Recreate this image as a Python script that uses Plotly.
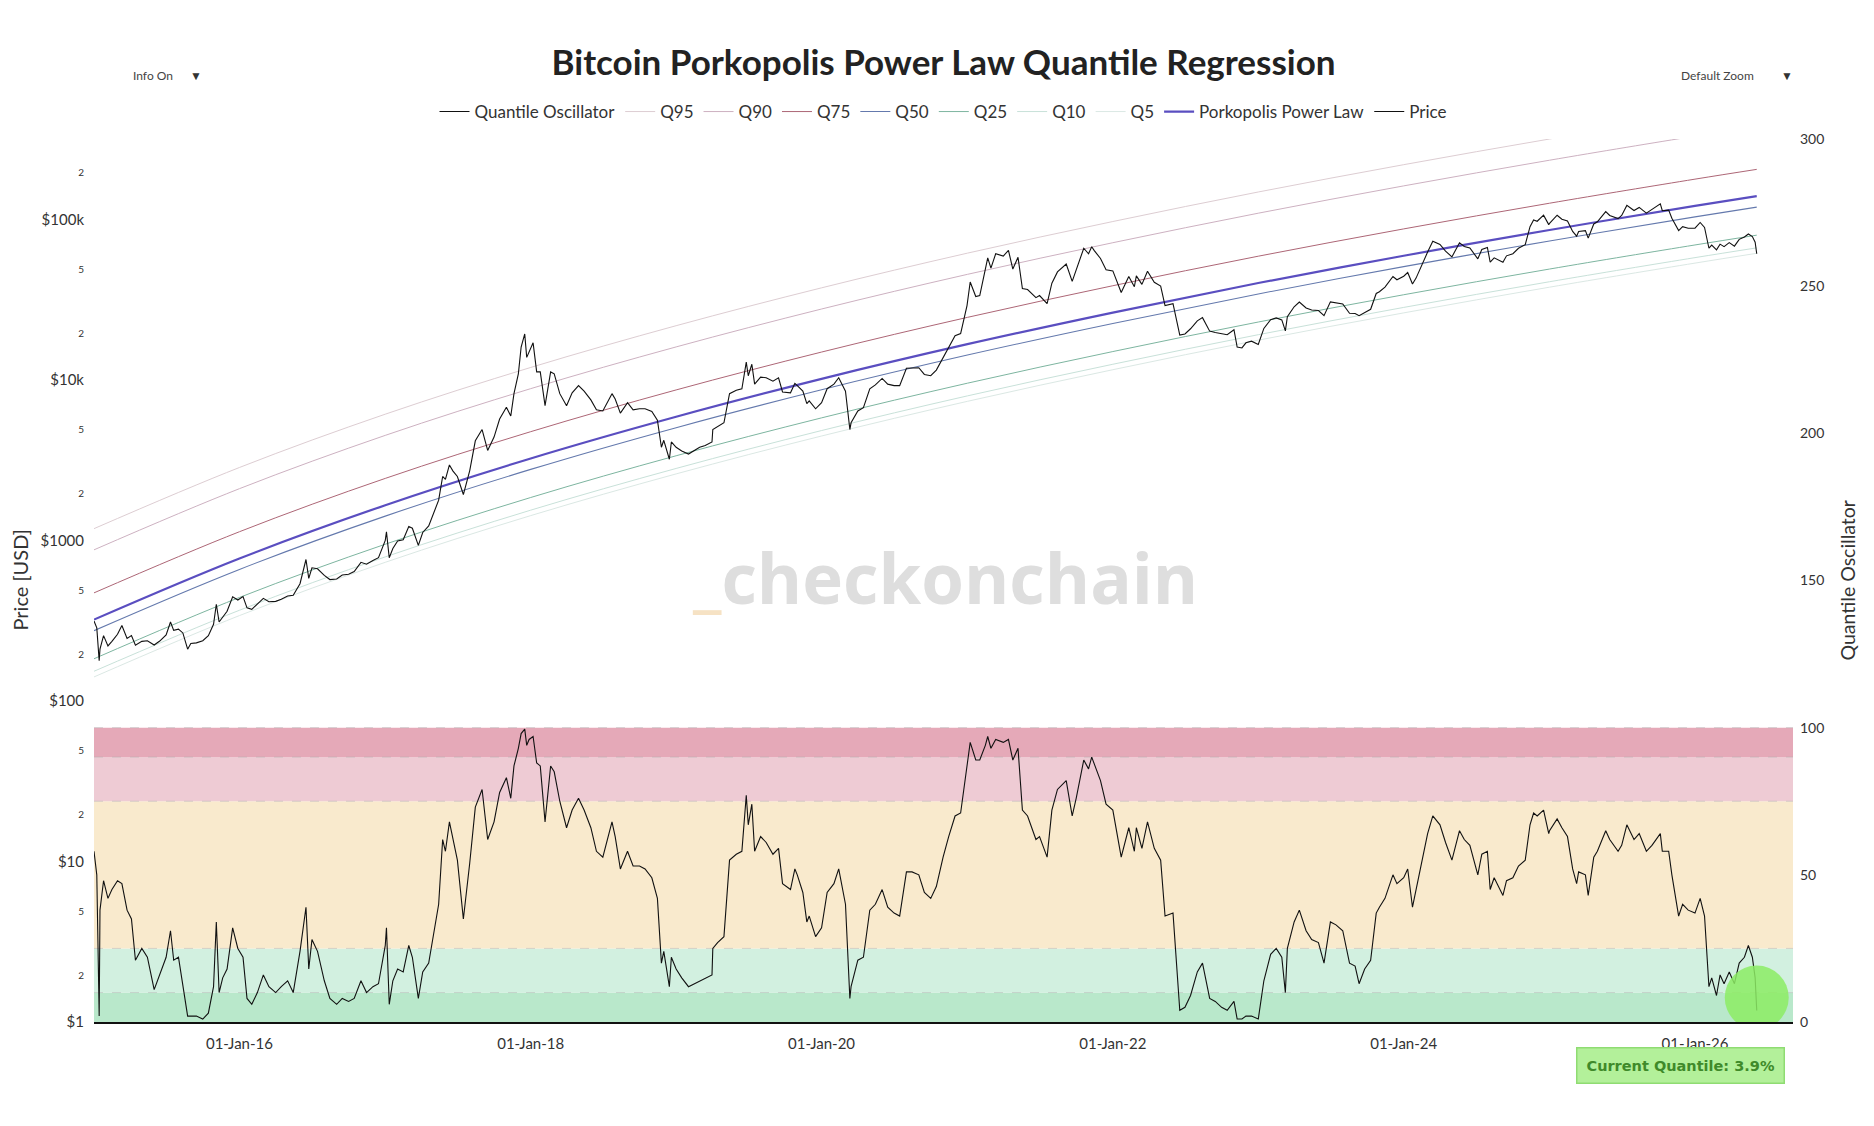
import plotly.graph_objects as go

# ---------------- data ----------------
curve_dates = ["2015-01-01", "2016-01-01", "2017-01-01", "2018-01-01", "2019-01-01", "2020-01-01",
               "2021-01-01", "2022-01-01", "2023-01-01", "2024-01-01", "2025-01-01", "2026-01-01",
               "2026-06-05"]
q95 = [1183, 2844, 6109, 11940, 21730, 37410, 61520, 96830, 147900, 218800, 316200, 446700, 514000]
q90 = [873, 2099, 4508, 8810, 16030, 27610, 45390, 71450, 109100, 161400, 233300, 329600, 379300]
q75 = [471, 1132, 2432, 4753, 8650, 14890, 24490, 38550, 58880, 87100, 125900, 177800, 204600]
power_law = [321, 771, 1656, 3236, 5888, 10140, 16670, 26240, 40090, 59290, 85700, 121060, 139300]
q50 = [274, 659, 1416, 2767, 5035, 8670, 14260, 22440, 34280, 50700, 73280, 103500, 119100]
q25 = [183, 441, 946, 1849, 3365, 5794, 9528, 15000, 22910, 33880, 48980, 69180, 79620]
q10 = [153, 367, 789, 1542, 2805, 4831, 7943, 12500, 19100, 28250, 40830, 57680, 66370]
q5 = [141, 340, 730, 1426, 2594, 4467, 7345, 11560, 17660, 26120, 37760, 53330, 61380]

price_dates = [
    "2015-01-01", "2015-01-08", "2015-01-14", "2015-01-16", "2015-01-25", "2015-02-05", "2015-02-15",
    "2015-03-01", "2015-03-12", "2015-03-25", "2015-04-05", "2015-04-15", "2015-05-01", "2015-05-15",
    "2015-06-01", "2015-06-15", "2015-07-01", "2015-07-12", "2015-07-20", "2015-08-01", "2015-08-12",
    "2015-08-24", "2015-09-01", "2015-09-15", "2015-10-01", "2015-10-15", "2015-10-28", "2015-11-04",
    "2015-11-11", "2015-11-20", "2015-12-01", "2015-12-15", "2015-12-28",
    "2016-01-10", "2016-01-20", "2016-02-01", "2016-02-15", "2016-03-01", "2016-03-15", "2016-04-01",
    "2016-04-15", "2016-05-01", "2016-05-15", "2016-06-01", "2016-06-16", "2016-06-23", "2016-07-01",
    "2016-07-15", "2016-08-01", "2016-08-15", "2016-09-01", "2016-09-15", "2016-10-01", "2016-10-15",
    "2016-11-01", "2016-11-15", "2016-12-01", "2016-12-15",
    "2017-01-01", "2017-01-04", "2017-01-11", "2017-01-20", "2017-02-01", "2017-02-15", "2017-03-01",
    "2017-03-10", "2017-03-25", "2017-04-05", "2017-04-20", "2017-05-05", "2017-05-15", "2017-05-25",
    "2017-06-01", "2017-06-11", "2017-06-20", "2017-07-01", "2017-07-16", "2017-08-01", "2017-08-15",
    "2017-09-01", "2017-09-15", "2017-10-01", "2017-10-15", "2017-11-01", "2017-11-12", "2017-11-20",
    "2017-12-01", "2017-12-08", "2017-12-17", "2017-12-22", "2017-12-28",
    "2018-01-07", "2018-01-16", "2018-01-25", "2018-02-06", "2018-02-20", "2018-03-01", "2018-03-15",
    "2018-04-01", "2018-04-15", "2018-05-01", "2018-05-15", "2018-06-01", "2018-06-15", "2018-07-01",
    "2018-07-24", "2018-08-01", "2018-08-14", "2018-09-01", "2018-09-15", "2018-10-01", "2018-10-15",
    "2018-11-01", "2018-11-15", "2018-11-25", "2018-12-01", "2018-12-15", "2018-12-20",
    "2019-01-01", "2019-01-15", "2019-02-01", "2019-02-15", "2019-03-01", "2019-03-15", "2019-04-01",
    "2019-04-03", "2019-04-15", "2019-05-01", "2019-05-15", "2019-06-01", "2019-06-15", "2019-06-26",
    "2019-07-01", "2019-07-10", "2019-07-17", "2019-08-01", "2019-08-15", "2019-09-01", "2019-09-15",
    "2019-09-25", "2019-10-15", "2019-10-26", "2019-11-01", "2019-11-15", "2019-11-25", "2019-12-01",
    "2019-12-17",
    "2020-01-01", "2020-01-15", "2020-02-01", "2020-02-13", "2020-03-01", "2020-03-12", "2020-03-15",
    "2020-04-01", "2020-04-15", "2020-05-01", "2020-05-15", "2020-06-01", "2020-06-15", "2020-07-01",
    "2020-07-15", "2020-08-01", "2020-08-15", "2020-09-01", "2020-09-15", "2020-10-01", "2020-10-15",
    "2020-11-01", "2020-11-15", "2020-12-01", "2020-12-15", "2020-12-31",
    "2021-01-08", "2021-01-22", "2021-02-01", "2021-02-15", "2021-02-21", "2021-03-01", "2021-03-13",
    "2021-04-01", "2021-04-14", "2021-04-25", "2021-05-08", "2021-05-19", "2021-06-01", "2021-06-22",
    "2021-07-01", "2021-07-20", "2021-08-01", "2021-08-15", "2021-09-06", "2021-09-21", "2021-10-01",
    "2021-10-20", "2021-11-01", "2021-11-09", "2021-11-15", "2021-12-01", "2021-12-15",
    "2022-01-01", "2022-01-22", "2022-02-10", "2022-02-24", "2022-03-01", "2022-03-15", "2022-03-29",
    "2022-04-15", "2022-05-01", "2022-05-12", "2022-06-01", "2022-06-18", "2022-07-01", "2022-07-15",
    "2022-08-01", "2022-08-14", "2022-09-01", "2022-09-15", "2022-10-01", "2022-10-15", "2022-11-01",
    "2022-11-09", "2022-11-21", "2022-12-01", "2022-12-15",
    "2023-01-01", "2023-01-15", "2023-02-01", "2023-02-15", "2023-03-01", "2023-03-10", "2023-03-15",
    "2023-04-01", "2023-04-14", "2023-05-01", "2023-05-15", "2023-06-01", "2023-06-15", "2023-07-01",
    "2023-07-15", "2023-08-01", "2023-08-18", "2023-09-01", "2023-09-11", "2023-09-25", "2023-10-10",
    "2023-10-24", "2023-11-01", "2023-11-15", "2023-12-05", "2023-12-15",
    "2024-01-01", "2024-01-11", "2024-01-23", "2024-02-01", "2024-02-15", "2024-03-01", "2024-03-14",
    "2024-04-01", "2024-04-15", "2024-05-01", "2024-05-20", "2024-06-01", "2024-06-15", "2024-07-05",
    "2024-07-15", "2024-07-29", "2024-08-05", "2024-08-15", "2024-09-06", "2024-09-15", "2024-10-01",
    "2024-10-15", "2024-11-01", "2024-11-13", "2024-11-22", "2024-12-01", "2024-12-17", "2024-12-30",
    "2025-01-01", "2025-01-20", "2025-02-01", "2025-02-15", "2025-02-28", "2025-03-10", "2025-03-15",
    "2025-04-01", "2025-04-08", "2025-04-22", "2025-05-01", "2025-05-22", "2025-06-01", "2025-06-22",
    "2025-07-01", "2025-07-14", "2025-08-01", "2025-08-14", "2025-09-01", "2025-09-15", "2025-10-06",
    "2025-10-11", "2025-10-27", "2025-11-04", "2025-11-21", "2025-12-01", "2025-12-15",
    "2026-01-01", "2026-01-14", "2026-01-25", "2026-02-05", "2026-02-12", "2026-02-24", "2026-03-05",
    "2026-03-15", "2026-03-28", "2026-04-10", "2026-04-22", "2026-05-05", "2026-05-15", "2026-05-25",
    "2026-06-01", "2026-06-05",
]

price = [
    315, 285, 178, 210, 255, 220, 235, 260, 295, 245, 255, 222, 235, 237, 223, 236, 258, 310, 275, 280,
    265, 210, 228, 230, 237, 255, 300, 400, 310, 330, 362, 445, 425,
    447, 380, 372, 400, 435, 415, 417, 430, 450, 455, 537, 760, 580, 675, 665, 605, 570, 575, 608, 615,
    640, 730, 710, 750, 780,
    1000, 1130, 780, 890, 990, 1010, 1220, 1190, 930, 1120, 1230, 1550, 1780, 2500, 2400, 2950, 2700,
    2500, 1930, 2720, 4170, 4900, 3630, 4400, 5700, 6750, 5950, 8200, 10900, 16000, 19300, 13800, 15000,
    17000, 11200, 11200, 6900, 11200, 10900, 8200, 6900, 8300, 9200, 8500, 7500, 6500, 6400, 8200, 7600,
    6200, 7200, 6500, 6600, 6600, 6350, 5600, 3800, 4200, 3200, 4100,
    3800, 3600, 3450, 3600, 3800, 3900, 4100, 4900, 5100, 5400, 8200, 8600, 8800, 12900, 10600, 12500,
    9400, 10400, 10300, 9800, 10300, 8400, 8300, 9500, 9200, 8500, 7100, 7400, 6600,
    7200, 8800, 9400, 10300, 8500, 4900, 5400, 6400, 6700, 8800, 9300, 10200, 9400, 9200, 9200, 11800,
    11900, 11900, 10800, 10600, 11500, 13800, 16000, 18800, 19400, 29000,
    40700, 33000, 33500, 48000, 57500, 49600, 61000, 59000, 64000, 49000, 58000, 37000, 36500, 32500,
    33500, 29800, 40000, 47000, 52600, 41000, 48000, 66000, 61000, 67500, 64000, 57000, 48500,
    47700, 35000, 44000, 38000, 44400, 39300, 47400, 40500, 38400, 29000, 29800, 19000, 19300, 20800,
    23300, 24400, 20100, 19700, 19300, 19100, 20500, 16000, 15800, 17000, 17400,
    16600, 20900, 23700, 24300, 23600, 20200, 24700, 28500, 30500, 28000, 27200, 27000, 25100, 30600,
    30300, 29700, 26000, 25900, 25100, 26300, 27500, 34500, 35400, 37800, 44000, 42000,
    44200, 46600, 39500, 43000, 52000, 62500, 73000, 69700, 63400, 58300, 71400, 67700, 66200, 56700,
    64800, 66800, 54000, 57500, 53900, 59200, 61000, 66000, 69400, 90000, 98900, 97200, 106000, 92600,
    94400, 106000, 100000, 97500, 84000, 78500, 84000, 85000, 76300, 93500, 96500, 111600, 105700,
    101000, 105700, 122000, 113300, 118500, 109200, 115300, 124700, 113000, 114000, 101500, 85000,
    90000, 88000,
    88000, 95500, 89000, 66000, 69000, 64500, 70000, 67500, 71500, 68000, 75000, 77500, 81000, 78000,
    72000, 61000,
]

oscillator = [
    58, 50, 2, 38, 48, 42, 45, 48, 47, 38, 35, 21, 25, 22, 11, 16, 22, 31, 21, 22, 13, 2, 2, 2, 1, 3, 12,
    34, 10, 15, 18, 32, 25,
    22, 8, 6, 10, 16, 12, 10, 12, 14, 10, 24, 39, 18, 28, 24, 14, 8, 6, 8, 7, 8, 14, 10, 12, 13,
    26, 32, 6, 14, 18, 17, 26, 22, 8, 17, 20, 32, 40, 62, 58, 68, 62, 55, 35, 54, 73, 79, 62, 68, 78, 83,
    76, 87, 93, 98, 99.5, 94, 96,
    97, 88, 87, 68, 87, 85, 75, 66, 72, 76, 72, 66, 58, 56, 68, 63, 52, 58, 53, 53, 52, 49, 42, 20, 24,
    12, 22,
    18, 15, 12, 13, 14, 15, 16, 25, 27, 29, 55, 57, 58, 77, 67, 74, 58, 63, 61, 57, 59, 47, 45, 52, 50,
    44, 34, 36, 29,
    32, 44, 47, 52, 40, 8, 12, 21, 22, 38, 40, 45, 39, 37, 36, 51, 51, 50, 44, 42, 46, 56, 63, 70, 71, 86,
    95, 89, 89, 94, 97, 93, 96, 95, 96, 89, 93, 72, 70, 62, 63, 56, 72, 79, 82, 70, 76, 89, 86, 90, 88,
    82, 74,
    72, 56, 66, 58, 66, 59, 68, 59, 55, 36, 37, 4, 5, 9, 17, 20, 8, 7, 5, 4, 7, 1, 1, 2, 2,
    1, 14, 23, 25, 22, 10, 25, 34, 38, 31, 28, 27, 20, 34, 33, 31, 20, 19, 13, 18, 21, 37, 39, 42, 50, 47,
    49, 52, 39, 45, 55, 64, 70, 67, 61, 55, 65, 62, 60, 50, 57, 58, 45, 49, 43, 48, 49, 53, 55, 67, 71,
    70, 72, 64,
    65, 69, 66, 63, 52, 47, 51, 50, 43, 56, 58, 65, 62, 58, 60, 67, 62, 64, 58, 60, 64, 58, 58, 50, 36,
    40, 38,
    37, 42, 36, 12, 15, 9, 16, 13, 17, 13, 20, 22, 26, 22, 15, 3.9,
]

current_quantile_label = "Current Quantile: 3.9%"
current_marker_level = [8.3]

band_edges = [0, 10, 25, 75, 90, 100]
band_colors = ["#b9e8cb", "#d2f0e0", "#f9eacd", "#eecbd4", "#e5a9b8"]

left_tickvals = [1, 2, 5, 10, 20, 50, 100, 200, 500, 1000, 2000, 5000, 10000, 20000, 50000, 100000, 200000]
left_major = {1: "$1", 10: "$10", 100: "$100", 1000: "$1000", 10000: "$10k", 100000: "$100k"}

# ---------------- figure ----------------
FONT = "Lato, 'Open Sans', sans-serif"
fig = go.Figure()

fig.add_trace(go.Scatter(x=price_dates, y=oscillator, name="Quantile Oscillator", yaxis="y2",
                         mode="lines", line=dict(color="#111111", width=1.1)))

curve_specs = [
    ("Q95", q95, "#ddcdd2", 1),
    ("Q90", q90, "#cdb1c1", 1),
    ("Q75", q75, "#ad6676", 1),
    ("Q50", q50, "#6479ad", 1.1),
    ("Q25", q25, "#7db5a0", 1),
    ("Q10", q10, "#c8e1d9", 1),
    ("Q5", q5, "#dbe8e4", 1),
    ("Porkopolis Power Law", power_law, "#5a4ec0", 2.2),
]
for name, vals, col, w in curve_specs:
    fig.add_trace(go.Scatter(x=curve_dates, y=vals, name=name, yaxis="y", mode="lines",
                             line=dict(color=col, width=w, shape="spline")))

fig.add_trace(go.Scatter(x=price_dates, y=price, name="Price", yaxis="y", mode="lines",
                         line=dict(color="#111111", width=1.1)))

fig.add_trace(go.Scatter(x=[price_dates[-1]], y=current_marker_level, yaxis="y2", mode="markers",
                         showlegend=False, hoverinfo="skip",
                         marker=dict(size=64, color="rgba(140,236,100,0.85)", line=dict(width=0))))

shapes = []
for i, col in enumerate(band_colors):
    shapes.append(dict(type="rect", xref="paper", yref="y2", x0=0, x1=1,
                       y0=band_edges[i], y1=band_edges[i + 1], fillcolor=col,
                       line=dict(width=0), layer="below"))
for e in band_edges[1:]:
    shapes.append(dict(type="line", xref="paper", yref="y2", x0=0, x1=1, y0=e, y1=e,
                       line=dict(color="rgba(170,170,170,0.45)", width=1, dash="dash"), layer="below"))

left_ticktext = []
for v in left_tickvals:
    if v in left_major:
        left_ticktext.append(left_major[v])
    else:
        left_ticktext.append("<span style='font-size:10px'>%s</span>" % str(v)[0])

fig.update_layout(
    width=1874, height=1126,
    paper_bgcolor="white", plot_bgcolor="white",
    margin=dict(l=94, r=81, t=139, b=104),
    font=dict(family=FONT, color="#333333"),
    title=dict(text="<b>Bitcoin Porkopolis Power Law Quantile Regression</b>",
               x=0.5035, xanchor="center", y=1 - 63 / 1126, yanchor="middle",
               font=dict(size=35, color="#222222", family=FONT)),
    legend=dict(orientation="h", x=0.5, xanchor="center", y=1 + (139 - 112) / 883, yanchor="middle",
                font=dict(size=17, color="#333333"), bgcolor="rgba(0,0,0,0)", itemwidth=30,
                tracegroupgap=0),
    showlegend=True,
    shapes=shapes,
    xaxis=dict(type="date", range=["2015-01-01", "2026-09-04"], showgrid=False, zeroline=False,
               tick0="2016-01-01", dtick="M24", tickformat="%d-%b-%y", ticks="",
               tickfont=dict(size=15, color="#333333"), showline=True, linecolor="#111111",
               linewidth=2, ticklabelstandoff=7),
    yaxis=dict(type="log", range=[0, 5.5], showgrid=False, zeroline=False, tickvals=left_tickvals,
               ticktext=left_ticktext, tickfont=dict(size=15, color="#333333"), ticks="",
               ticklabelstandoff=9, showline=False),
    yaxis2=dict(overlaying="y", side="right", range=[0, 300], showgrid=False, zeroline=False,
                tickvals=[0, 50, 100, 150, 200, 250, 300], tickfont=dict(size=14, color="#333333"),
                ticks="", ticklabelstandoff=6, showline=False),
)

ann = []
ann.append(dict(text="Price [USD]", xref="paper", yref="paper", x=-75 / 1699, y=0.5, textangle=-90,
                showarrow=False, font=dict(size=20, color="#333333"), xanchor="center", yanchor="middle"))
ann.append(dict(text="Quantile Oscillator", xref="paper", yref="paper", x=1 + 54 / 1699, y=0.5,
                textangle=-90, showarrow=False, font=dict(size=19.5, color="#333333"),
                xanchor="center", yanchor="middle"))
ann.append(dict(text="<b><span style='color:#f6e2c4'>_</span>checkonchain</b>", xref="paper",
                yref="paper", x=(945 - 94) / 1699, y=(1022 - 577) / 883, showarrow=False,
                font=dict(size=69, color="#dedede", family="'Open Sans', 'Noto Sans', sans-serif"),
                xanchor="center", yanchor="middle"))
ann.append(dict(text="Info On", xref="paper", yref="paper", x=(131 - 94) / 1699, y=(1022 - 75) / 883,
                showarrow=False, xanchor="left", yanchor="middle", font=dict(size=12, color="#444444")))
ann.append(dict(text="▼", xref="paper", yref="paper", x=(196 - 94) / 1699, y=(1022 - 75) / 883,
                showarrow=False, xanchor="center", yanchor="middle", font=dict(size=12, color="#333333")))
ann.append(dict(text="Default Zoom", xref="paper", yref="paper", x=(1679 - 94) / 1699, y=(1022 - 75) / 883,
                showarrow=False, xanchor="left", yanchor="middle", font=dict(size=12, color="#444444")))
ann.append(dict(text="▼", xref="paper", yref="paper", x=(1787 - 94) / 1699, y=(1022 - 75) / 883,
                showarrow=False, xanchor="center", yanchor="middle", font=dict(size=12, color="#333333")))
ann.append(dict(text="<b>" + current_quantile_label + "</b>", xref="paper", yref="paper",
                x=(1680 - 94) / 1699, y=(1022 - 1065) / 883, showarrow=False, xanchor="center",
                yanchor="middle", font=dict(size=14.5, color="#3f8a2a", family="'DejaVu Sans', Verdana, sans-serif"),
                bgcolor="#b3f09a", bordercolor="#8fdc72", borderwidth=1.5, borderpad=9))
fig.update_layout(annotations=ann)

fig.write_html("out.html")
